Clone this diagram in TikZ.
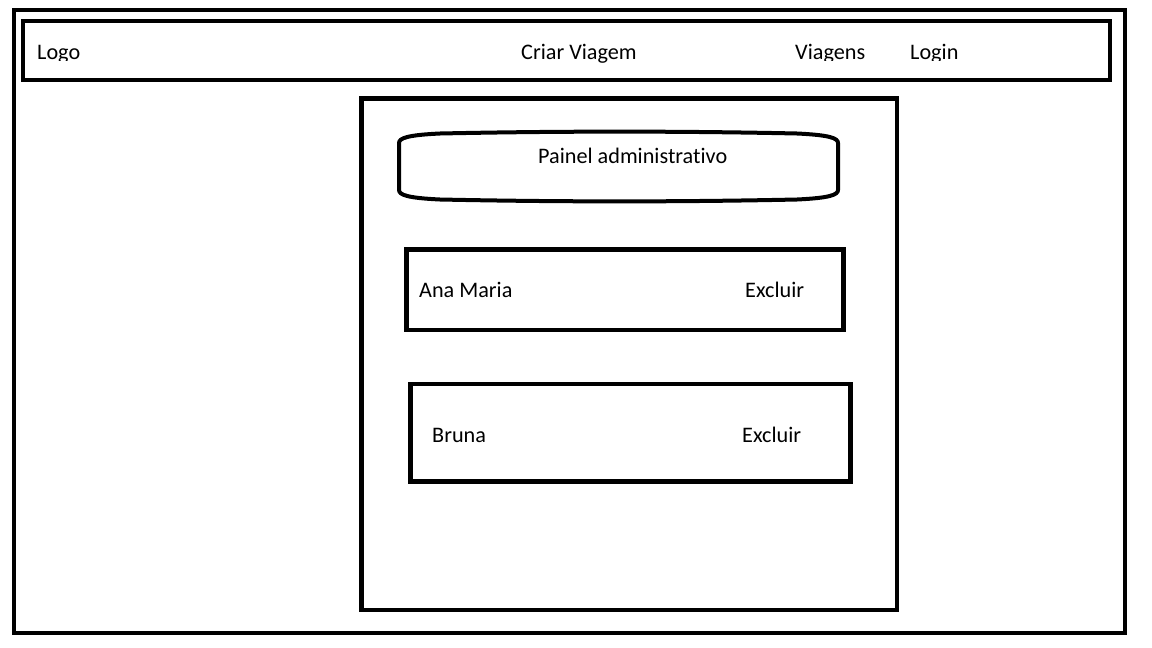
\documentclass[tikz,border=0pt]{standalone}
\usepackage{fontspec}
\setmainfont[Ligatures={NoCommon}]{Carlito}
\begin{document}
\begin{tikzpicture}[x=1pt,y=-1pt,
  frame/.style={draw=black,line width=4.5pt},
  lbl/.style={anchor=base west,inner sep=0pt,font=\fontsize{22.2}{26}\selectfont}]
\useasboundingbox[fill=white] (0,0) rectangle (1152,648);
% outer frame
\draw[frame,line width=4pt] (14,9.5) rectangle (1125,633);
% header bar
\draw[frame] (23,21) rectangle (1110,80);
\begin{scope}
\clip (23,21) rectangle (1110,60.5);
\node[lbl] (logo) at (37,59) {Logo};
\node[lbl] (viagens) at (795,59) {Viagens};
\node[lbl] (login) at (910,59) {Login};
\end{scope}
\begin{scope}
\clip (23,21) rectangle (1110,62.5);
\node[lbl] (criar) at (521,59.5) {Criar Viagem};
\end{scope}
% central panel
\draw[frame] (361.5,98.5) rectangle (897,610);
% title pill
\draw[frame,line width=4pt,line join=round]
  (399,190) -- (399,143) .. controls (399,138) and (408,135) .. (440,133.5)
  .. controls (560,131) and (680,131) .. (797,133.5)
  .. controls (829,135) and (838,138) .. (838,143)
  -- (838,190) .. controls (838,195) and (829,198) .. (797,199.5)
  .. controls (680,202) and (560,202) .. (440,199.5)
  .. controls (408,198) and (399,195) .. (399,190) -- cycle;
\node[lbl] (painel) at (538,163) {Painel administrativo};
% user rows
\draw[frame] (406.5,249.5) rectangle (843.5,330);
\node[lbl] (ana) at (419,297) {Ana Maria};
\node[lbl] (exc1) at (745,297) {Excluir};
\draw[frame] (410.5,384) rectangle (850.5,481.5);
\node[lbl] (bruna) at (432,442) {Bruna};
\node[lbl] (exc2) at (742,442) {Excluir};
\end{tikzpicture}
\end{document}
